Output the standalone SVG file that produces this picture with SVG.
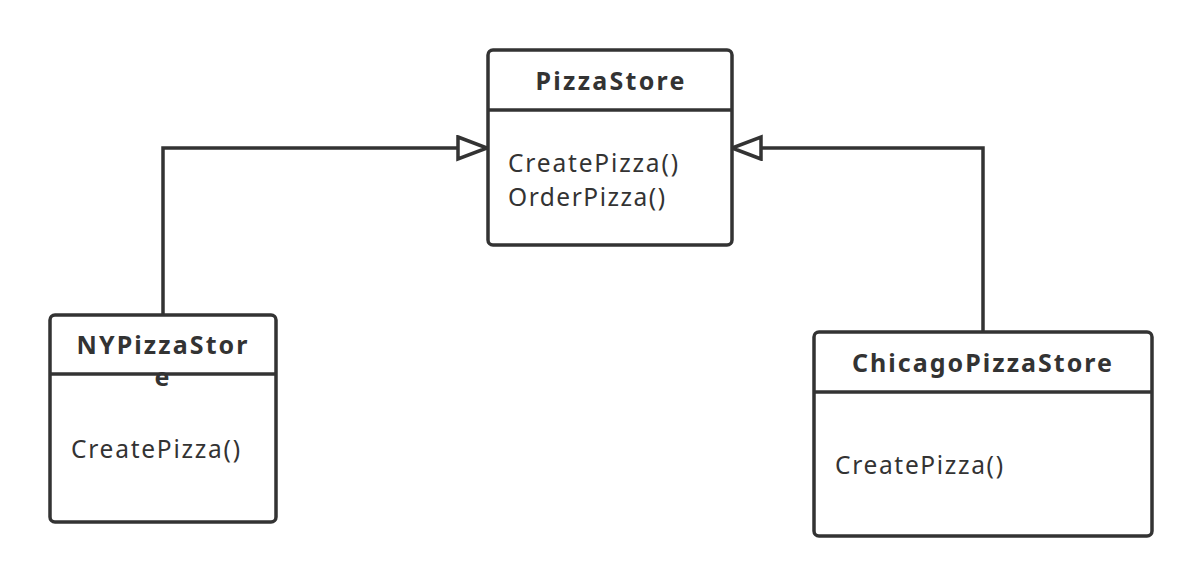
<svg xmlns="http://www.w3.org/2000/svg" width="1202" height="586" viewBox="0 0 1202 586">
<style>
.box{fill:#fff;stroke:#333;stroke-width:3.5}
.div{stroke:#333;stroke-width:3.5}
.title{font-family:"Noto Sans","Open Sans",sans-serif;font-weight:bold;font-size:25px;fill:#333;text-anchor:middle}
.op{font-family:"Noto Sans","Open Sans",sans-serif;font-size:24.5px;fill:#333}
.conn{fill:none;stroke:#333;stroke-width:3.5}
</style>
<defs>
<marker id="tri" markerUnits="userSpaceOnUse" markerWidth="34" markerHeight="28" refX="31" refY="13" orient="auto">
<path d="M2,2 L31,13 L2,24 Z" fill="#fff" stroke="#333" stroke-width="3.5"/>
</marker>
</defs>
<rect width="1202" height="586" fill="#fff"/>
<g id="connectors">
<path class="conn" d="M163,314 V148 H487" marker-end="url(#tri)"/>
<path class="conn" d="M983,332 V148 H732" marker-end="url(#tri)"/>
</g>
<g id="PizzaStore">
<rect class="box" x="488" y="50" width="244" height="195" rx="5"/>
<line class="div" x1="488" y1="110" x2="732" y2="110"/>
<text class="title" x="610" y="90" textLength="149">PizzaStore</text>
<text class="op" x="508" y="172" textLength="170">CreatePizza()</text>
<text class="op" x="508" y="206" textLength="157">OrderPizza()</text>
</g>
<g id="NYPizzaStore">
<rect class="box" x="50" y="315" width="226" height="207" rx="5"/>
<line class="div" x1="50" y1="374" x2="276" y2="374"/>
<text class="title" x="162" y="354" textLength="171">NYPizzaStor</text>
<text class="title" x="162" y="386">e</text>
<text class="op" x="71" y="458" textLength="169">CreatePizza()</text>
</g>
<g id="ChicagoPizzaStore">
<rect class="box" x="814" y="332" width="338" height="204" rx="5"/>
<line class="div" x1="814" y1="392" x2="1152" y2="392"/>
<text class="title" x="982" y="372" textLength="260">ChicagoPizzaStore</text>
<text class="op" x="835" y="474" textLength="168">CreatePizza()</text>
</g>
</svg>
